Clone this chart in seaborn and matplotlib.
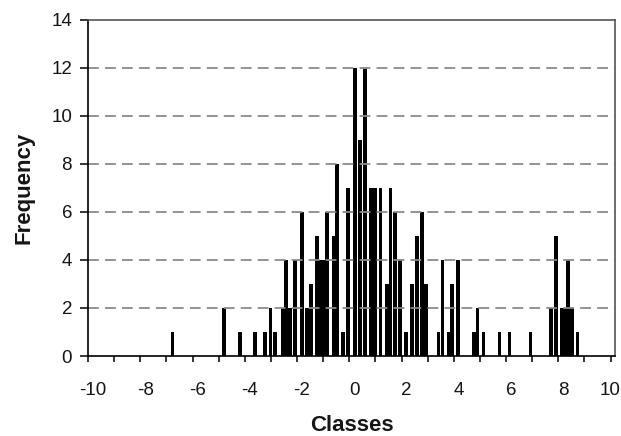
import numpy as np
import pandas as pd
import matplotlib
matplotlib.use("Agg")
import matplotlib.pyplot as plt
import matplotlib.transforms as mtransforms
import seaborn as sns

# ---- data ----
classes = [-6.76, -4.80, -4.17, -3.60, -3.22, -3.02, -2.84, -2.56, -2.43, -2.26,
           -2.09, -1.82, -1.63, -1.46, -1.23, -1.10, -0.99, -0.85, -0.61, -0.47,
           -0.25, -0.04, 0.21, 0.40, 0.59, 0.84, 0.99, 1.20, 1.44, 1.58,
           1.75, 1.94, 2.16, 2.41, 2.58, 2.79, 2.94, 3.42, 3.57, 3.80,
           3.93, 4.17, 4.78, 4.91, 5.14, 5.75, 6.13, 6.93, 7.72, 7.91,
           8.12, 8.26, 8.37, 8.52, 8.73]
frequency = [1, 2, 1, 1, 1, 2, 1, 2, 4, 2,
             4, 6, 2, 3, 5, 4, 4, 6, 5, 8,
             1, 7, 12, 9, 12, 7, 7, 7, 3, 7,
             6, 4, 1, 3, 5, 6, 3, 1, 4, 1,
             3, 4, 1, 2, 1, 1, 1, 1, 2, 5,
             2, 2, 4, 2, 1]
xtick_values = list(range(-10, 11))
xtick_labels = [str(v) if v % 2 == 0 else "" for v in xtick_values]
ytick_values = list(range(0, 15, 2))
grid_levels = [2, 4, 6, 8, 10, 12]
x_label = "Classes"
y_label = "Frequency"

df = pd.DataFrame({"Classes": classes, "Frequency": frequency})

sns.set_theme(style="white")
plt.rcParams["font.family"] = ["Liberation Sans", "DejaVu Sans"]
plt.rcParams["axes.unicode_minus"] = False

fig = plt.figure(figsize=(6.21, 4.36), dpi=100)
fig.patch.set_facecolor("white")
ax = fig.add_axes([88 / 621, 1 - 356 / 436, (615 - 88) / 621, (356 - 20) / 436])
ax.set_facecolor("white")

bar_units = 0.14
min_gap = np.min(np.diff(np.unique(np.array(classes, dtype=float))))
sns.barplot(data=df, x="Classes", y="Frequency", native_scale=True,
            color="black", saturation=1, errorbar=None,
            width=bar_units / min_gap, linewidth=0, ax=ax, zorder=2)

for lvl in grid_levels:
    ax.axhline(lvl, color="#8a8a8a", linewidth=1.3,
               linestyle=(0, (6.0, 3.4)), zorder=3)

ax.set_xlim(-10, 10.17)
ax.set_ylim(0, 14)
ax.set_xticks(xtick_values)
ax.set_xticklabels(xtick_labels)
ax.set_yticks(ytick_values)
ax.set_yticklabels([str(v) for v in ytick_values])

ax.tick_params(axis="x", direction="out", length=4.5, width=1.1,
               color="black", pad=14, labelsize=13.5, labelcolor="#151515",
               bottom=True)
ax.tick_params(axis="y", direction="out", length=5.5, width=1.1,
               color="black", pad=6, labelsize=13.5, labelcolor="#151515",
               left=True)

offset = mtransforms.ScaledTranslation(5 / 100, 0, fig.dpi_scale_trans)
xlabels = ax.get_xticklabels()
for lab in xlabels:
    lab.set_transform(lab.get_transform() + offset)
# last label ("10") sits at the right edge; anchor it so it stays inside
xlabels[-1].set_horizontalalignment("right")
xlabels[-1].set_transform(xlabels[-1].get_transform()
                          + mtransforms.ScaledTranslation(5 / 100, 0, fig.dpi_scale_trans))

for side in ["left", "bottom"]:
    ax.spines[side].set_color("black")
    ax.spines[side].set_linewidth(1.2)
for side in ["top", "right"]:
    ax.spines[side].set_color("#555555")
    ax.spines[side].set_linewidth(1.2)
for sp in ax.spines.values():
    sp.set_zorder(4)
    sp.set_visible(True)

ax.set_xlabel(x_label, fontsize=16, fontweight="bold", color="#151515", labelpad=12)
ax.set_ylabel(y_label, fontsize=16, fontweight="bold", color="#151515", labelpad=12)

fig.savefig("out.png", dpi=100, facecolor="white")
